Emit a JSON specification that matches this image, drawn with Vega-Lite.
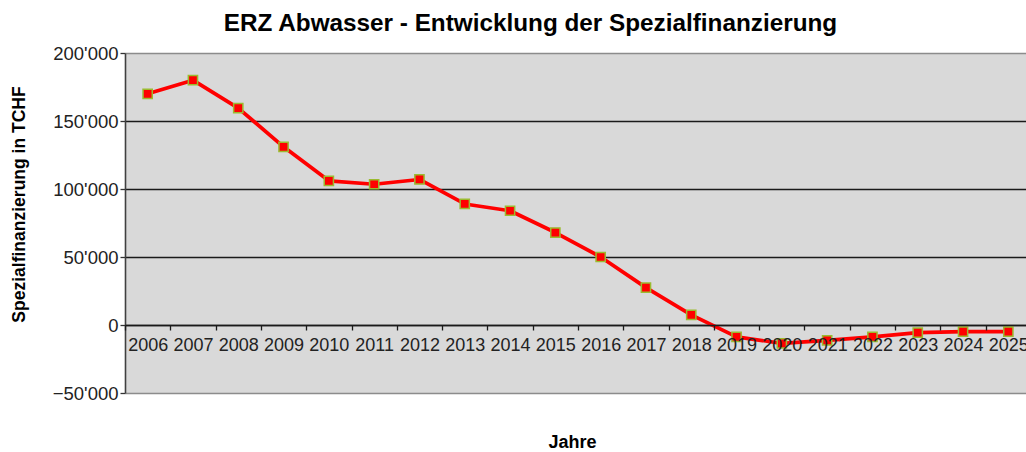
{
  "$schema": "https://vega.github.io/schema/vega-lite/v6.json",
  "width": 901,
  "height": 340,
  "autosize": {"type": "none"},
  "padding": {"left": 125, "top": 53, "right": 0, "bottom": 59},
  "background": "#ffffff",
  "title": {
    "text": "ERZ Abwasser - Entwicklung  der Spezialfinanzierung",
    "font": "Liberation Sans",
    "fontSize": 24.3,
    "fontWeight": "bold",
    "color": "#000000",
    "anchor": "middle",
    "frame": "group",
    "dx": -45,
    "baseline": "alphabetic",
    "offset": -11
  },
  "data": {
    "values": [
      {"Jahr": "2006", "Wert": 170000},
      {"Jahr": "2007", "Wert": 180000},
      {"Jahr": "2008", "Wert": 159500},
      {"Jahr": "2009", "Wert": 131000},
      {"Jahr": "2010", "Wert": 106000},
      {"Jahr": "2011", "Wert": 103500},
      {"Jahr": "2012", "Wert": 107000},
      {"Jahr": "2013", "Wert": 89000},
      {"Jahr": "2014", "Wert": 84000},
      {"Jahr": "2015", "Wert": 68000},
      {"Jahr": "2016", "Wert": 50000},
      {"Jahr": "2017", "Wert": 27500},
      {"Jahr": "2018", "Wert": 7500},
      {"Jahr": "2019", "Wert": -8700},
      {"Jahr": "2020", "Wert": -13500},
      {"Jahr": "2021", "Wert": -11300},
      {"Jahr": "2022", "Wert": -8800},
      {"Jahr": "2023", "Wert": -5600},
      {"Jahr": "2024", "Wert": -4800},
      {"Jahr": "2025", "Wert": -4800}
    ]
  },
  "encoding": {
    "x": {
      "field": "Jahr",
      "type": "nominal",
      "sort": null,
      "scale": {"type": "band", "range": [0, 906], "paddingInner": 0, "paddingOuter": 0},
      "axis": {
        "title": "Jahre",
        "titleFont": "Liberation Sans",
        "titleFontSize": 18,
        "titleFontWeight": "bold",
        "titleColor": "#000000",
        "titleX": 447,
        "titleY": 117,
        "titleAlign": "center",
        "titleBaseline": "middle",
        "offset": -68,
        "zindex": 1,
        "tickBand": "extent",
        "domainColor": "#1a1a1a",
        "domainWidth": 1.5,
        "tickColor": "#1a1a1a",
        "tickWidth": 1.3,
        "tickSize": 5,
        "labelAngle": 0,
        "labelFont": "Liberation Sans",
        "labelFontSize": 18,
        "labelColor": "#222222",
        "labelPadding": 6,
        "labelOverlap": false,
        "labelBound": false,
        "grid": false
      }
    },
    "y": {
      "field": "Wert",
      "type": "quantitative",
      "scale": {"domain": [-50000, 200000], "nice": false, "zero": false},
      "axis": {
        "values": [-50000, 0, 50000, 100000, 150000, 200000],
        "labelExpr": "replace(format(datum.value, ','), ',', \"'\")",
        "title": "Spezialfinanzierung in TCHF",
        "titleFont": "Liberation Sans",
        "titleFontSize": 17.5,
        "titleFontWeight": "bold",
        "titleColor": "#000000",
        "titleX": -106,
        "titleY": 151,
        "titleAngle": 270,
        "titleAlign": "center",
        "titleBaseline": "middle",
        "labelFont": "Liberation Sans",
        "labelFontSize": 18.5,
        "labelColor": "#222222",
        "labelPadding": 2,
        "tickSize": 5,
        "tickColor": "#333333",
        "tickWidth": 1.3,
        "domainColor": "#404040",
        "domainWidth": 1.6,
        "grid": true,
        "gridWidth": 1.3,
        "gridColor": {
          "condition": {"test": "datum.value === 200000 || datum.value === -50000", "value": "#8c8c8c"},
          "value": "#1a1a1a"
        },
        "zindex": 0
      }
    }
  },
  "layer": [
    {
      "mark": {"type": "line", "color": "#ff0000", "strokeWidth": 3.7, "interpolate": "linear", "strokeJoin": "round"}
    },
    {
      "mark": {"type": "point", "shape": "square", "filled": true, "fill": "#ff0000", "stroke": "#9bbb2f", "strokeWidth": 1.5, "size": 85, "opacity": 1}
    }
  ],
  "config": {
    "view": {"fill": "#d9d9d9", "stroke": null},
    "font": "Liberation Sans"
  }
}
